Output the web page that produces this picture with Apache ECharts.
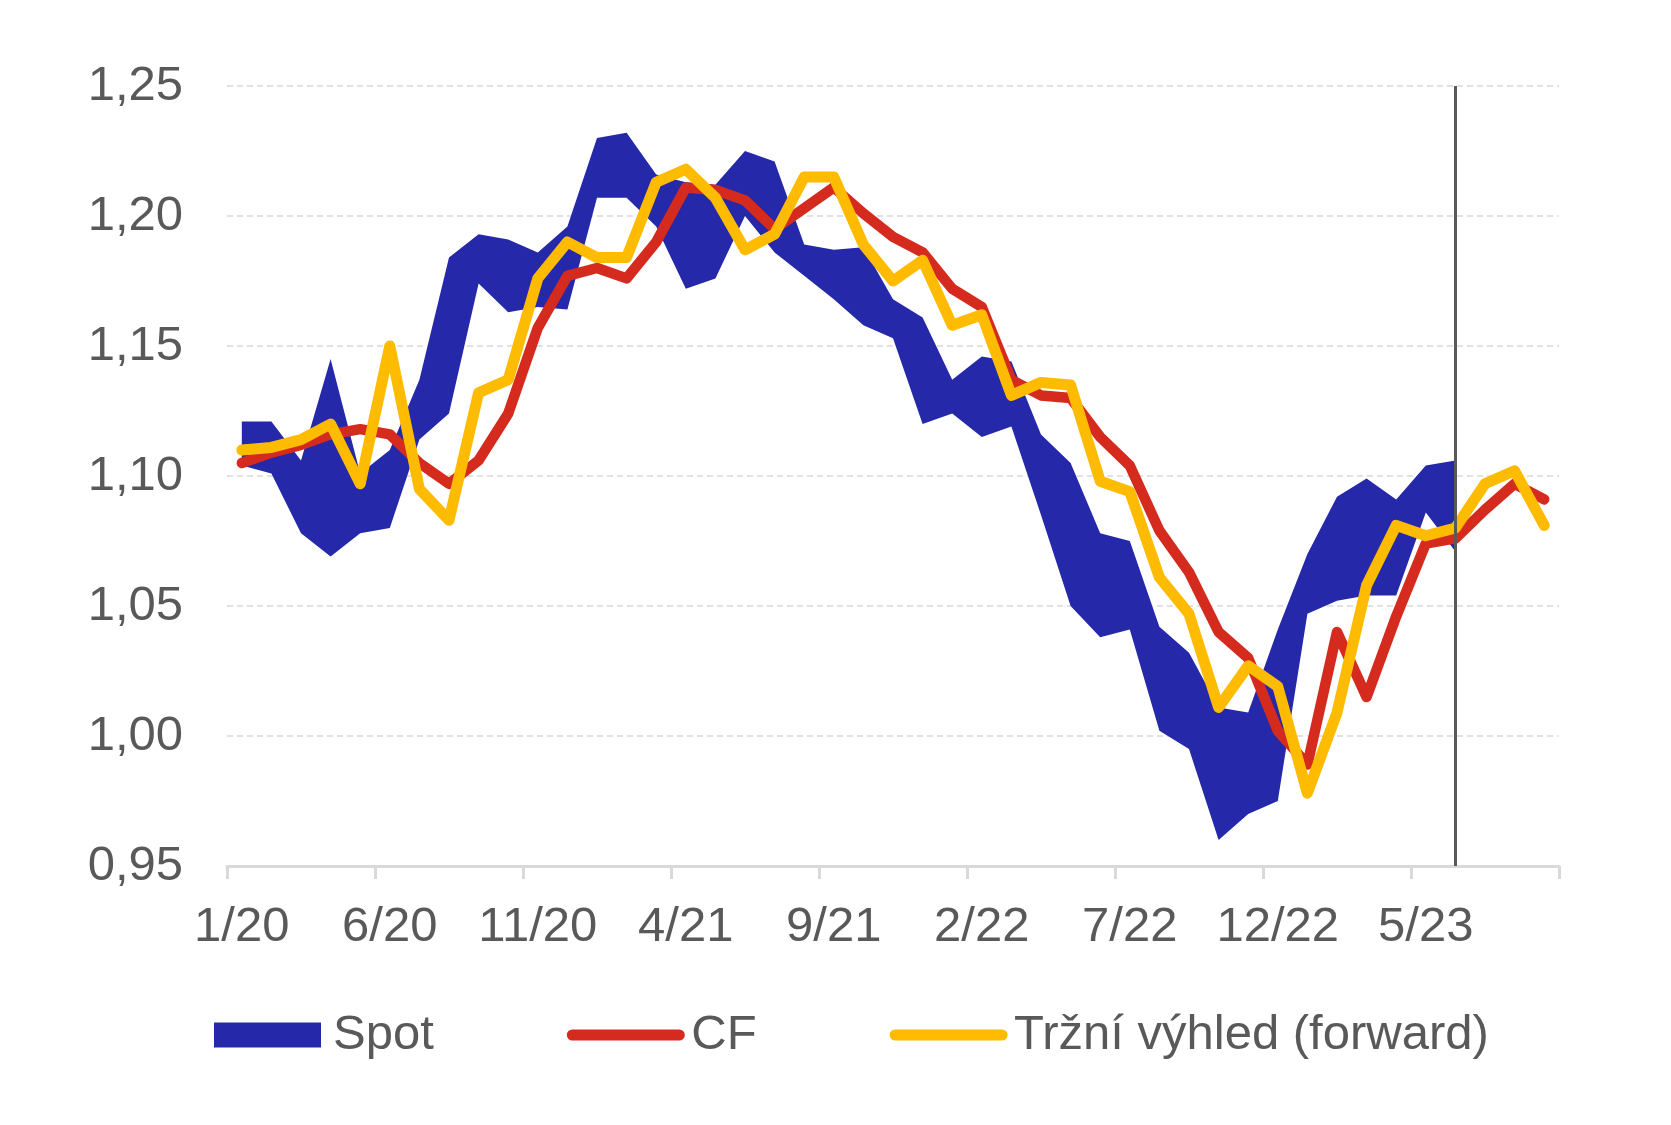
<!DOCTYPE html>
<html>
<head>
<meta charset="utf-8">
<script src="https://cdn.jsdelivr.net/npm/echarts@6/dist/echarts.min.js"></script>
<style>
html,body{margin:0;padding:0;background:#fff;}
#chart{width:1671px;height:1125px;}
</style>
</head>
<body>
<div id="chart"></div>
<script>
var categories = ['1/20','2/20','3/20','4/20','5/20','6/20','7/20','8/20','9/20','10/20','11/20','12/20',
  '1/21','2/21','3/21','4/21','5/21','6/21','7/21','8/21','9/21','10/21','11/21','12/21',
  '1/22','2/22','3/22','4/22','5/22','6/22','7/22','8/22','9/22','10/22','11/22','12/22',
  '1/23','2/23','3/23','4/23','5/23','6/23','7/23','8/23','9/23'];

var spotLow = [1.104,1.101,1.078,1.069,1.078,1.080,1.114,1.124,1.174,1.163,1.165,1.164,
  1.207,1.207,1.196,1.172,1.176,1.200,1.186,1.177,1.168,1.158,1.153,1.120,
  1.124,1.115,1.119,1.085,1.050,1.038,1.041,1.002,0.995,0.960,0.970,0.975,
  1.047,1.052,1.054,1.054,1.086,1.071];

var spotHigh = [1.121,1.121,1.106,1.145,1.101,1.110,1.137,1.184,1.193,1.191,1.186,1.196,
  1.230,1.232,1.216,1.213,1.212,1.225,1.221,1.189,1.187,1.188,1.168,1.161,
  1.137,1.146,1.144,1.116,1.105,1.078,1.075,1.042,1.032,1.011,1.009,1.041,
  1.070,1.092,1.099,1.091,1.104,1.106];

var cf = [1.105,1.109,1.112,1.116,1.118,1.116,1.105,1.097,1.106,1.124,1.157,1.177,
  1.180,1.176,1.190,1.211,1.210,1.206,1.195,1.203,1.211,1.201,1.192,1.186,
  1.172,1.165,1.137,1.131,1.130,1.115,1.104,1.079,1.063,1.040,1.030,1.002,
  0.989,1.040,1.015,1.046,1.074,1.076,1.087,1.097,1.091];

var forward = [1.110,1.111,1.114,1.120,1.097,1.150,1.095,1.083,1.132,1.137,1.176,1.190,
  1.184,1.184,1.213,1.218,1.207,1.187,1.193,1.215,1.215,1.189,1.175,1.183,
  1.158,1.162,1.131,1.136,1.135,1.098,1.094,1.061,1.047,1.011,1.027,1.019,
  0.978,1.009,1.058,1.081,1.077,1.080,1.097,1.102,1.081];

var yTicks = {min: 0.95, max: 1.25, interval: 0.05};
var markerMonth = '6/23';

var BLUE = '#2428a9', RED = '#d52b1e', YELLOW = '#ffbb00', TXT = '#595959';
var FONT = "'Liberation Sans', Arial, sans-serif";

var spotSpread = spotHigh.map(function(h, i){ return +(h - spotLow[i]).toFixed(4); });

var linePath = 'path://M5.5,0 L112.5,0 A5.5,5.5 0 0 1 112.5,11 L5.5,11 A5.5,5.5 0 0 1 5.5,0 Z';
var rectPath = 'path://M0,0 L107,0 L107,25 L0,25 Z';

var chart = echarts.init(document.getElementById('chart'), null, {renderer: 'canvas'});
chart.setOption({
  animation: false,
  backgroundColor: '#ffffff',
  grid: {left: 227, right: 112, top: 86, bottom: 259, containLabel: false},
  legend: {
    left: 214, top: 1010.5, padding: 0,
    itemWidth: 118, itemHeight: 25, itemGap: 133,
    textStyle: {fontFamily: FONT, fontSize: 49, color: TXT, padding: [0,0,0,1.5]},
    data: [
      {name: 'Spot', icon: rectPath, itemStyle: {color: BLUE}},
      {name: 'CF', icon: linePath, itemStyle: {color: RED}},
      {name: 'Tržní výhled (forward)', icon: linePath, itemStyle: {color: YELLOW}}
    ]
  },
  xAxis: {
    type: 'category',
    data: categories,
    boundaryGap: true,
    axisLine: {lineStyle: {color: '#d9d9d9', width: 3}},
    axisTick: {show: true, interval: 4, length: 13, lineStyle: {color: '#d9d9d9', width: 3}},
    axisLabel: {interval: 4, margin: 37, fontFamily: FONT, fontSize: 49, color: TXT},
    splitLine: {show: false}
  },
  yAxis: {
    type: 'value',
    min: yTicks.min, max: yTicks.max, interval: yTicks.interval,
    axisLine: {show: false},
    axisTick: {show: false},
    axisLabel: {margin: 44, fontFamily: FONT, fontSize: 49, color: TXT,
      formatter: function(v){ return v.toFixed(2).replace('.', ','); }},
    splitLine: {lineStyle: {color: '#d9d9d9', width: 1.5, type: [6, 4]}}
  },
  series: [
    {
      name: 'spotLow', type: 'line', stack: 'spot', data: spotLow,
      symbol: 'none', lineStyle: {opacity: 0, width: 0}, silent: true, z: 1
    },
    {
      name: 'Spot', type: 'line', stack: 'spot', data: spotSpread,
      symbol: 'none', lineStyle: {opacity: 0, width: 0},
      areaStyle: {color: BLUE, opacity: 1}, itemStyle: {color: BLUE}, z: 2,
      markLine: {
        silent: true, symbol: ['none','none'], label: {show: false},
        lineStyle: {color: TXT, width: 3, type: 'solid'},
        data: [{xAxis: markerMonth}]
      }
    },
    {
      name: 'CF', type: 'line', data: cf, symbol: 'none', z: 3,
      itemStyle: {color: RED},
      lineStyle: {color: RED, width: 10.5, cap: 'round', join: 'round'}
    },
    {
      name: 'Tržní výhled (forward)', type: 'line', data: forward, symbol: 'none', z: 4,
      itemStyle: {color: YELLOW},
      lineStyle: {color: YELLOW, width: 11, cap: 'round', join: 'round'}
    }
  ]
});
</script>
</body>
</html>
